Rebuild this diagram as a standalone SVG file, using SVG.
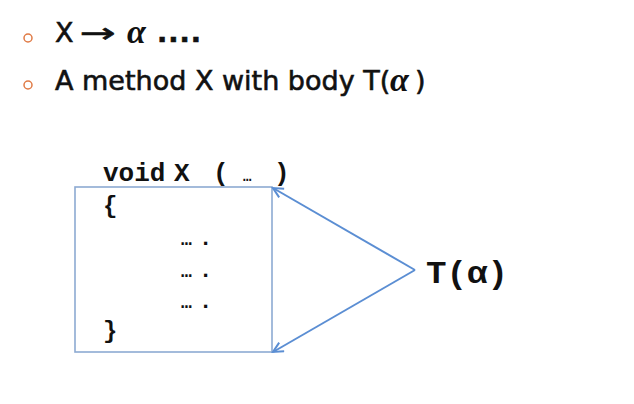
<svg xmlns="http://www.w3.org/2000/svg" width="634" height="404" viewBox="0 0 634 404">
<style>
.bul{fill:none;stroke:#E07A45;stroke-width:1.5}
.main{font-family:"DejaVu Sans","Liberation Sans",sans-serif;font-size:27px;fill:#111;stroke:#111;stroke-width:0.6}
.greek{font-family:"Liberation Serif","DejaVu Serif",serif;font-style:italic;font-weight:bold;font-size:34px;fill:#111}
.code{font-family:"Liberation Mono","DejaVu Sans Mono",monospace;font-weight:bold;fill:#111}
.box{fill:#fff;stroke:#8DAAD2;stroke-width:1.6}
.conn{fill:none;stroke:#5B8ED3;stroke-width:2}
</style>
<defs>
<marker id="arr" markerUnits="userSpaceOnUse" markerWidth="14" markerHeight="14" refX="11" refY="6" orient="auto">
<path d="M1,1 L11,6 L1,11" fill="none" stroke="#5B8ED3" stroke-width="2"/>
</marker>
</defs>
<g id="bullets">
<circle class="bul" cx="28" cy="38" r="4"/>
<text class="main" x="55" y="42">X</text>
<text class="main" x="80" y="42" textLength="36" lengthAdjust="spacingAndGlyphs">→</text>
<text class="greek" x="127" y="43">α</text>
<text class="main" x="157" y="42" font-weight="bold" letter-spacing="1">....</text>
<circle class="bul" cx="28" cy="85" r="4"/>
<text class="main" x="55" y="90">A method X with body T(</text>
<text class="greek" x="390" y="91">α</text>
<text class="main" x="415" y="90">)</text>
</g>
<g id="method-box">
<rect class="box" x="75" y="187" width="197" height="165"/>
<text class="code" x="103" y="181" font-size="26">void</text>
<text class="code" x="174" y="181" font-size="26">X</text>
<text class="code" x="213" y="181" font-size="26">(</text>
<text class="code" x="243" y="181" font-size="14">…</text>
<text class="code" x="274" y="181" font-size="26">)</text>
<text class="code" x="103" y="213" font-size="24">{</text>
<text class="code" x="181" y="245" font-size="18">…</text><text class="code" x="199" y="245" font-size="22">.</text>
<text class="code" x="181" y="277" font-size="18">…</text><text class="code" x="199" y="277" font-size="22">.</text>
<text class="code" x="181" y="308" font-size="18">…</text><text class="code" x="199" y="308" font-size="22">.</text>
<text class="code" x="103" y="338" font-size="24">}</text>
</g>
<g id="t-alpha">
<text class="code" x="426" y="283" font-size="31" textLength="82" lengthAdjust="spacingAndGlyphs">T(α)</text>
</g>
<g id="connectors">
<line class="conn" x1="415" y1="270" x2="273" y2="188" marker-end="url(#arr)"/>
<line class="conn" x1="415" y1="270" x2="273" y2="352" marker-end="url(#arr)"/>
</g>
</svg>
